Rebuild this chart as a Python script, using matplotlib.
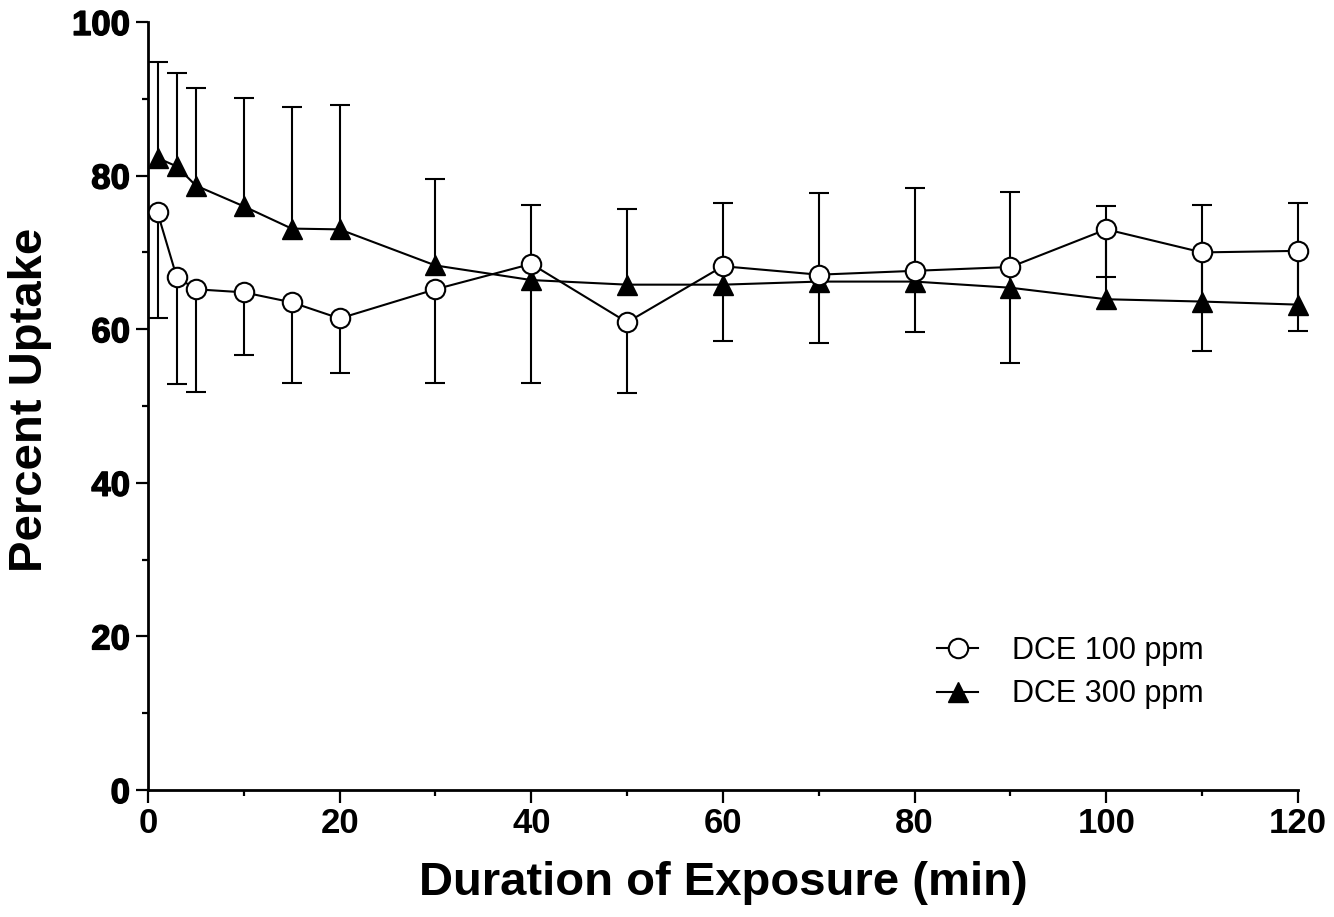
import numpy as np
import matplotlib
matplotlib.use("Agg")
import matplotlib.pyplot as plt
import matplotlib.patheffects as pe

plt.rcParams['font.family'] = ['Liberation Sans', 'DejaVu Sans']

# exposure time (min)
minutes = [1, 3, 5, 10, 15, 20, 30, 40, 50, 60, 70, 80, 90, 100, 110, 120]

# DCE 100 ppm: mean uptake (%) and error (drawn downward)
dce100_mean = [75.2, 66.8, 65.2, 64.8, 63.5, 61.4, 65.2, 68.5, 60.9, 68.2, 67.1, 67.6, 68.1, 73.0, 70.0, 70.2]
dce100_err = [13.7, 14.0, 13.4, 8.2, 10.5, 7.1, 12.2, 15.5, 9.2, 9.8, 8.9, 8.0, 12.5, 6.2, 12.9, 10.4]

# DCE 300 ppm: mean uptake (%) and error (drawn upward)
dce300_mean = [82.3, 81.2, 78.7, 76.0, 73.1, 73.0, 68.3, 66.4, 65.8, 65.8, 66.2, 66.2, 65.4, 63.9, 63.6, 63.2]
dce300_err = [12.5, 12.1, 12.7, 14.1, 15.8, 16.2, 11.3, 9.8, 9.9, 10.6, 11.5, 12.2, 12.5, 12.2, 12.6, 13.2]

t = np.array(minutes, dtype=float)
m100, e100 = np.array(dce100_mean), np.array(dce100_err)
m300, e300 = np.array(dce300_mean), np.array(dce300_err)

fig = plt.figure(figsize=(13.34, 9.17), dpi=100)
ax = fig.add_axes([0.1109, 0.1385, 0.8621, 0.8375])

lw = 1.5
cap_ms = 14

# one-sided error bars with caps at the far end
ax.vlines(t, m100 - e100, m100, colors='black', lw=lw, zorder=2, clip_on=False)
ax.plot(t, m100 - e100, ls='none', marker='_', ms=cap_ms, mew=lw, color='black',
        zorder=2, clip_on=False)
ax.vlines(t, m300, m300 + e300, colors='black', lw=lw, zorder=2, clip_on=False)
ax.plot(t, m300 + e300, ls='none', marker='_', ms=cap_ms, mew=lw, color='black',
        zorder=2, clip_on=False)

ax.plot(t, m300, color='black', lw=lw, marker='^', ms=14, mfc='black', mec='black',
        label='DCE 300 ppm', zorder=3, clip_on=False)
ax.plot(t, m100, color='black', lw=lw, marker='o', ms=14, mfc='white', mec='black', mew=lw,
        label='DCE 100 ppm', zorder=4, clip_on=False)

ax.set_xlim(0, 120)
ax.set_ylim(0, 100)
ax.set_xticks(np.arange(0, 121, 20))
ax.set_xticks(np.arange(10, 120, 20), minor=True)
ax.set_yticks(np.arange(0, 101, 20))
ax.set_yticks(np.arange(10, 100, 20), minor=True)

for s in ['top', 'right']:
    ax.spines[s].set_visible(False)
for s in ['left', 'bottom']:
    ax.spines[s].set_linewidth(2)

ax.tick_params(which='major', length=9, width=1.6, direction='out')
ax.tick_params(which='minor', length=4.5, width=1.6, direction='out')
ax.tick_params(axis='x', pad=3)
ax.tick_params(axis='y', pad=4)

for lab in ax.get_xticklabels():
    lab.set_fontsize(25)
    lab.set_fontweight('bold')
for lab in ax.get_yticklabels():
    lab.set_fontsize(25)
    lab.set_fontweight('bold')
    lab.set_path_effects([pe.withStroke(linewidth=1.0, foreground='black')])

ax.set_xlabel('Duration of Exposure (min)', fontsize=34, fontweight='bold')
ax.set_ylabel('Percent Uptake', fontsize=34, fontweight='bold')
ax.xaxis.set_label_coords(0.5, -0.093)
ax.yaxis.set_label_coords(-0.083, 0.508)

handles, labels = ax.get_legend_handles_labels()
ax.legend(handles[::-1], labels[::-1], loc='center left',
          bbox_to_anchor=(0.7024, 0.2666), bbox_transform=fig.transFigure,
          frameon=False, fontsize=22, handlelength=1.35, handletextpad=1.1,
          labelspacing=0.45, borderpad=0, borderaxespad=0)

fig.savefig('out.png', dpi=100)
